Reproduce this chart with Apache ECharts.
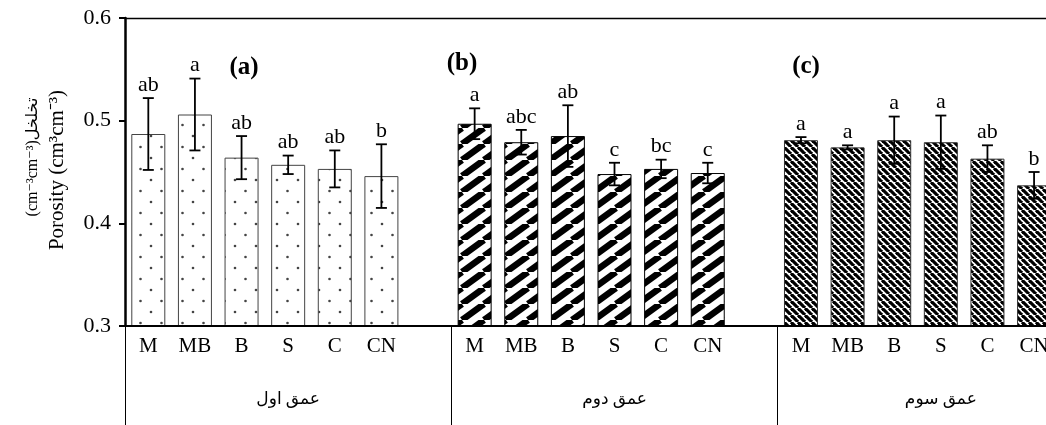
<!DOCTYPE html>
<html>
<head>
<meta charset="utf-8">
<script src="https://cdn.jsdelivr.net/npm/echarts@6/dist/echarts.min.js"></script>
<style>html,body{margin:0;padding:0;background:#fff}#c{width:1046px;height:425px}</style>
</head>
<body>
<div id="c"></div>
<script>
// ---- data ----
const treatments = ['M', 'MB', 'B', 'S', 'C', 'CN'];
const depths = ['عمق اول', 'عمق دوم', 'عمق سوم'];
const panelTags = ['(a)', '(b)', '(c)'];
const yTicks = [0.3, 0.4, 0.5, 0.6];

const depth1 = [0.487, 0.506, 0.464, 0.457, 0.453, 0.446];
const err1   = [0.035, 0.035, 0.021, 0.009, 0.018, 0.031];
const let1   = ['ab', 'a', 'ab', 'ab', 'ab', 'b'];

const depth2 = [0.497, 0.479, 0.485, 0.448, 0.453, 0.449];
const err2   = [0.015, 0.012, 0.030, 0.011, 0.009, 0.010];
const let2   = ['a', 'abc', 'ab', 'c', 'bc', 'c'];

const depth3 = [0.481, 0.474, 0.481, 0.479, 0.463, 0.437];
const err3   = [0.003, 0.002, 0.023, 0.026, 0.013, 0.013];
const let3   = ['a', 'a', 'a', 'a', 'ab', 'b'];

// ---- patterns ----
function mk(w, h, draw) {
  const c = document.createElement('canvas');
  c.width = w; c.height = h;
  const g = c.getContext('2d');
  g.fillStyle = '#fff'; g.fillRect(0, 0, w, h);
  draw(g, w, h);
  return c;
}
const patDots = mk(21, 22, (g) => {
  g.fillStyle = '#444';
  [[4, 4], [14.5, 15]].forEach(p => { g.beginPath(); g.arc(p[0], p[1], 1.3, 0, Math.PI * 2); g.fill(); });
});
const patWide = mk(22, 16, (g, w, h) => {
  g.strokeStyle = '#000'; g.lineWidth = 6.5;
  [-w, 0, w].forEach(o => { g.beginPath(); g.moveTo(o, h); g.lineTo(o + w, 0); g.stroke(); });
});
const patFine = mk(7, 7, (g, w, h) => {
  g.strokeStyle = '#000'; g.lineWidth = 3.2;
  [-w, 0, w].forEach(o => { g.beginPath(); g.moveTo(o, 0); g.lineTo(o + w, h); g.stroke(); });
});
const fills = [
  { color: { image: patDots, repeat: 'repeat' }, borderColor: '#444', borderWidth: 1 },
  { color: { image: patWide, repeat: 'repeat' }, borderColor: '#000', borderWidth: 1 },
  { color: { image: patFine, repeat: 'repeat' }, borderColor: '#333', borderWidth: 1 }
];

// ---- build ----
const vals = [depth1, depth2, depth3];
const errs = [err1, err2, err3];
const lets = [let1, let2, let3];
const cats = [];
const barData = [];
const errData = [];
const errLetters = [];
for (let g = 0; g < 3; g++) {
  for (let j = 0; j < 7; j++) {
    const idx = g * 7 + j;
    if (j < 6) {
      cats.push(treatments[j]);
      barData.push({ value: vals[g][j], itemStyle: fills[g] });
      errData.push([idx, vals[g][j], errs[g][j]]);
      errLetters.push(lets[g][j]);
    } else {
      cats.push('');
      barData.push('-');
    }
  }
}

const FONT = "'Liberation Serif', 'DejaVu Sans', serif";
const chart = echarts.init(document.getElementById('c'), null, { renderer: 'canvas' });

const option = {
  animation: false,
  backgroundColor: '#fff',
  grid: { left: 125, top: 18, height: 308, width: 979, outerBoundsMode: 'none', containLabel: false },
  xAxis: [
    {
      type: 'category', data: cats, position: 'bottom',
      axisLine: { show: true, lineStyle: { color: '#000', width: 2 } },
      axisTick: { show: false },
      axisLabel: { interval: 0, margin: 10, fontFamily: FONT, fontSize: 21, color: '#000' },
      z: 10
    },
    {
      type: 'category', data: depths, position: 'bottom',
      axisLine: { show: false },
      axisTick: { show: true, length: 100, interval: 0, lineStyle: { color: '#000', width: 1 } },
      axisLabel: { interval: 0, margin: 65, fontFamily: FONT, fontSize: 17, color: '#000' }
    },
    {
      type: 'category', data: depths, position: 'top',
      axisLine: { show: true, lineStyle: { color: '#000', width: 1.3 } },
      axisTick: { show: false }, axisLabel: { show: false }
    }
  ],
  yAxis: {
    type: 'value', min: yTicks[0], max: yTicks[yTicks.length - 1], interval: 0.1,
    axisLine: { show: true, lineStyle: { color: '#000', width: 2.5 } },
    axisTick: { show: true, length: 6, lineStyle: { color: '#000', width: 2 } },
    splitLine: { show: false },
    axisLabel: { margin: 14, fontFamily: FONT, fontSize: 22, color: '#000', formatter: v => v.toFixed(1) },
    z: 10
  },
  series: [
    { type: 'bar', xAxisIndex: 0, data: barData, barWidth: 34 },
    {
      type: 'custom', xAxisIndex: 0, data: errData, z: 5, clip: false,
      renderItem: function (params, api) {
        const x = api.value(0), v = api.value(1), e = api.value(2);
        const t = api.coord([x, v + e]);
        const b = api.coord([x, v - e]);
        const cw = 5.5;
        const st = { stroke: '#000', lineWidth: 1.8 };
        return {
          type: 'group',
          children: [
            { type: 'line', shape: { x1: t[0], y1: t[1], x2: b[0], y2: b[1] }, style: st },
            { type: 'line', shape: { x1: t[0] - cw, y1: t[1], x2: t[0] + cw, y2: t[1] }, style: st },
            { type: 'line', shape: { x1: b[0] - cw, y1: b[1], x2: b[0] + cw, y2: b[1] }, style: st },
            {
              type: 'text',
              style: {
                text: errLetters[params.dataIndex], x: t[0], y: t[1] - 13,
                align: 'center', verticalAlign: 'middle',
                font: "22px 'Liberation Serif', serif", fill: '#000'
              }
            }
          ]
        };
      }
    }
  ],
  graphic: [
    { type: 'text', x: 33, y: 157, rotation: Math.PI / 2,
      style: { text: '(cm⁻³cm⁻³)تخلخل', align: 'center', verticalAlign: 'middle', font: "16px 'Liberation Serif', 'DejaVu Sans', serif", fill: '#000' } },
    { type: 'text', x: 57, y: 170, rotation: Math.PI / 2,
      style: { text: 'Porosity (cm³cm⁻³)', align: 'center', verticalAlign: 'middle', font: "21px 'Liberation Serif', serif", fill: '#000' } },
    { type: 'text', x: 244, y: 68, style: { text: panelTags[0], align: 'center', verticalAlign: 'middle', font: "bold 25px 'Liberation Serif', serif", fill: '#000' } },
    { type: 'text', x: 462, y: 64, style: { text: panelTags[1], align: 'center', verticalAlign: 'middle', font: "bold 25px 'Liberation Serif', serif", fill: '#000' } },
    { type: 'text', x: 806, y: 67, style: { text: panelTags[2], align: 'center', verticalAlign: 'middle', font: "bold 25px 'Liberation Serif', serif", fill: '#000' } }
  ]
};
chart.setOption(option);
</script>
</body>
</html>
